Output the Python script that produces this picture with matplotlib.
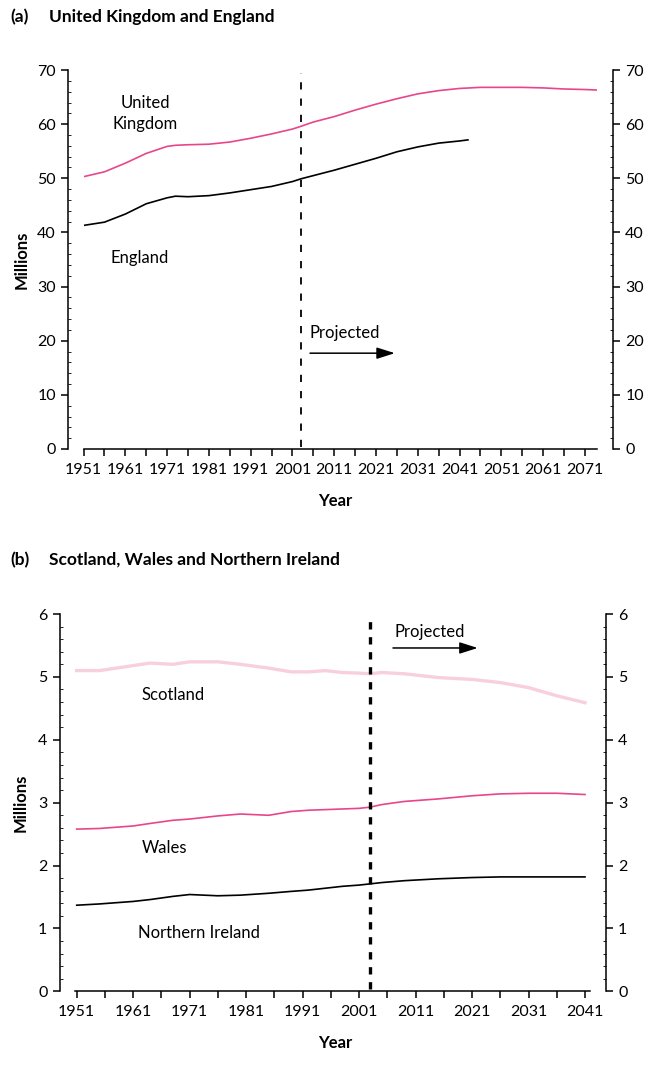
import numpy as np
import matplotlib.pyplot as plt
from matplotlib.ticker import MultipleLocator

plt.rcParams['font.family'] = ['Lato', 'DejaVu Sans']

# Dados do painel (a): Reino Unido e Inglaterra (milhões)
anos_uk = [1951, 1956, 1961, 1966, 1971, 1973, 1976, 1981, 1986, 1991, 1996, 2001, 2003,
           2006, 2011, 2016, 2021, 2026, 2031, 2036, 2041, 2046, 2051, 2056, 2061, 2066, 2071, 2074]
pop_uk = [50.3, 51.2, 52.8, 54.6, 55.9, 56.1, 56.2, 56.3, 56.7, 57.4, 58.2, 59.1, 59.6,
          60.4, 61.4, 62.6, 63.7, 64.7, 65.6, 66.2, 66.6, 66.8, 66.8, 66.8, 66.7, 66.5, 66.4, 66.3]

anos_eng = [1951, 1956, 1961, 1966, 1971, 1973, 1976, 1981, 1986, 1991, 1996, 2001, 2003,
            2006, 2011, 2016, 2021, 2026, 2031, 2036, 2041, 2043]
pop_eng = [41.3, 41.9, 43.4, 45.3, 46.4, 46.7, 46.6, 46.8, 47.3, 47.9, 48.5, 49.4, 49.9,
           50.5, 51.5, 52.6, 53.7, 54.9, 55.8, 56.5, 56.9, 57.1]

# Dados do painel (b): Escócia, País de Gales e Irlanda do Norte (milhões)
anos_b = [1951, 1955, 1958, 1961, 1964, 1968, 1971, 1976, 1980, 1985, 1989, 1992, 1995,
          1998, 2001, 2003, 2005, 2009, 2015, 2021, 2026, 2031, 2036, 2041]
pop_esc = [5.10, 5.10, 5.14, 5.18, 5.22, 5.20, 5.24, 5.24, 5.20, 5.14, 5.08, 5.08, 5.10,
           5.07, 5.06, 5.05, 5.07, 5.05, 4.99, 4.96, 4.91, 4.83, 4.70, 4.59]
pop_gales = [2.58, 2.59, 2.61, 2.63, 2.67, 2.72, 2.74, 2.79, 2.82, 2.80, 2.86, 2.88, 2.89,
             2.90, 2.91, 2.93, 2.97, 3.02, 3.06, 3.11, 3.14, 3.15, 3.15, 3.13]
pop_ni = [1.37, 1.39, 1.41, 1.43, 1.46, 1.51, 1.54, 1.52, 1.53, 1.56, 1.59, 1.61, 1.64,
          1.67, 1.69, 1.71, 1.73, 1.76, 1.79, 1.81, 1.82, 1.82, 1.82, 1.82]

ano_projecao = 2003

rosa = '#e8468a'
rosa_claro = '#f8cfdf'


def configurar_eixos(ax, xlim, ylim, passo_y, passo_menor_y, ticks_x, ticks_menores_x):
    ax.set_xlim(*xlim)
    ax.set_ylim(*ylim)
    ax.spines['top'].set_visible(False)
    ax.spines['left'].set_position(('outward', 11))
    ax.spines['right'].set_position(('outward', 11))
    for s in ['left', 'right', 'bottom']:
        ax.spines[s].set_linewidth(1.1)
    ax.set_xticks(ticks_x)
    ax.set_xticks(ticks_menores_x, minor=True)
    ax.yaxis.set_major_locator(MultipleLocator(passo_y))
    ax.yaxis.set_minor_locator(MultipleLocator(passo_menor_y))
    ax.tick_params(axis='x', which='both', direction='out', length=5, width=1.1, labelsize=11.5, pad=5)
    ax.tick_params(axis='y', which='major', direction='out', length=5, width=1.1, labelsize=11.5,
                   left=True, right=True, labelleft=True, labelright=True, pad=4)
    ax.tick_params(axis='y', which='minor', direction='in', length=2.5, width=0.6,
                   left=True, right=True)
    ax.set_xlabel('Year', fontsize=12, fontweight='bold', labelpad=6)
    ax.set_ylabel('Millions', fontsize=12, fontweight='bold', labelpad=4)


fig = plt.figure(figsize=(6.48, 10.66), dpi=100)

# Painel (a)
ax1 = fig.add_axes([0.129, 0.5788, 0.793, 0.3555])
ax1.plot(anos_uk, pop_uk, color=rosa, linewidth=1.2)
ax1.plot(anos_eng, pop_eng, color='black', linewidth=1.2)
ax1.plot([ano_projecao, ano_projecao], [0.3, 69.5], color='black', linewidth=1.3,
         linestyle=(0, (4, 5)))
configurar_eixos(ax1, (1951, 2074), (0, 70), 10, 2,
                 np.arange(1951, 2072, 10), np.arange(1956, 2072, 10))
ax1.yaxis.set_label_coords(-0.105, 0.5)
ax1.xaxis.set_label_coords(0.49, -0.115)

ax1.text(1965.7, 62.0, 'United\nKingdom', ha='center', va='center', fontsize=12, linespacing=1.35)
ax1.text(1964.3, 35.3, 'England', ha='center', va='center', fontsize=12)
ax1.text(2005.0, 21.4, 'Projected', ha='left', va='center', fontsize=12)
ax1.annotate('', xy=(2025.5, 17.7), xytext=(2005.2, 17.7),
             arrowprops=dict(arrowstyle='-|>,head_length=1.1,head_width=0.35',
                             color='black', linewidth=1.1, shrinkA=0, shrinkB=0))

# Painel (b)
ax2 = fig.add_axes([0.116, 0.070, 0.795, 0.354])
ax2.plot(anos_b, pop_esc, color=rosa_claro, linewidth=2.4)
ax2.plot(anos_b, pop_gales, color=rosa, linewidth=1.2)
ax2.plot(anos_b, pop_ni, color='black', linewidth=1.2)
ax2.plot([ano_projecao, ano_projecao], [0.03, 5.94], color='black', linewidth=2.4,
         linestyle=(0, (2.2, 2.3)))
configurar_eixos(ax2, (1950.73, 2041.94), (0, 6), 1, 0.2,
                 np.arange(1951, 2042, 10), np.arange(1956, 2042, 10))
ax2.yaxis.set_label_coords(-0.09, 0.5)
ax2.xaxis.set_label_coords(0.505, -0.115)

ax2.text(1968.0, 4.71, 'Scotland', ha='center', va='center', fontsize=12)
ax2.text(1966.6, 2.28, 'Wales', ha='center', va='center', fontsize=12)
ax2.text(1972.7, 0.93, 'Northern Ireland', ha='center', va='center', fontsize=12)
ax2.text(2007.3, 5.71, 'Projected', ha='left', va='center', fontsize=12)
ax2.annotate('', xy=(2022.0, 5.46), xytext=(2007.0, 5.46),
             arrowprops=dict(arrowstyle='-|>,head_length=1.1,head_width=0.35',
                             color='black', linewidth=1.1, shrinkA=0, shrinkB=0))

# Títulos dos painéis
fig.text(10 / 648, 1 - 17 / 1066, '(a)', fontsize=12.5, fontweight='bold', va='center')
fig.text(49 / 648, 1 - 17 / 1066, 'United Kingdom and England', fontsize=12.5, fontweight='bold', va='center')
fig.text(10 / 648, 1 - 560 / 1066, '(b)', fontsize=12.5, fontweight='bold', va='center')
fig.text(49 / 648, 1 - 560 / 1066, 'Scotland, Wales and Northern Ireland', fontsize=12.5,
         fontweight='bold', va='center')

plt.savefig('out.png', dpi=100)
